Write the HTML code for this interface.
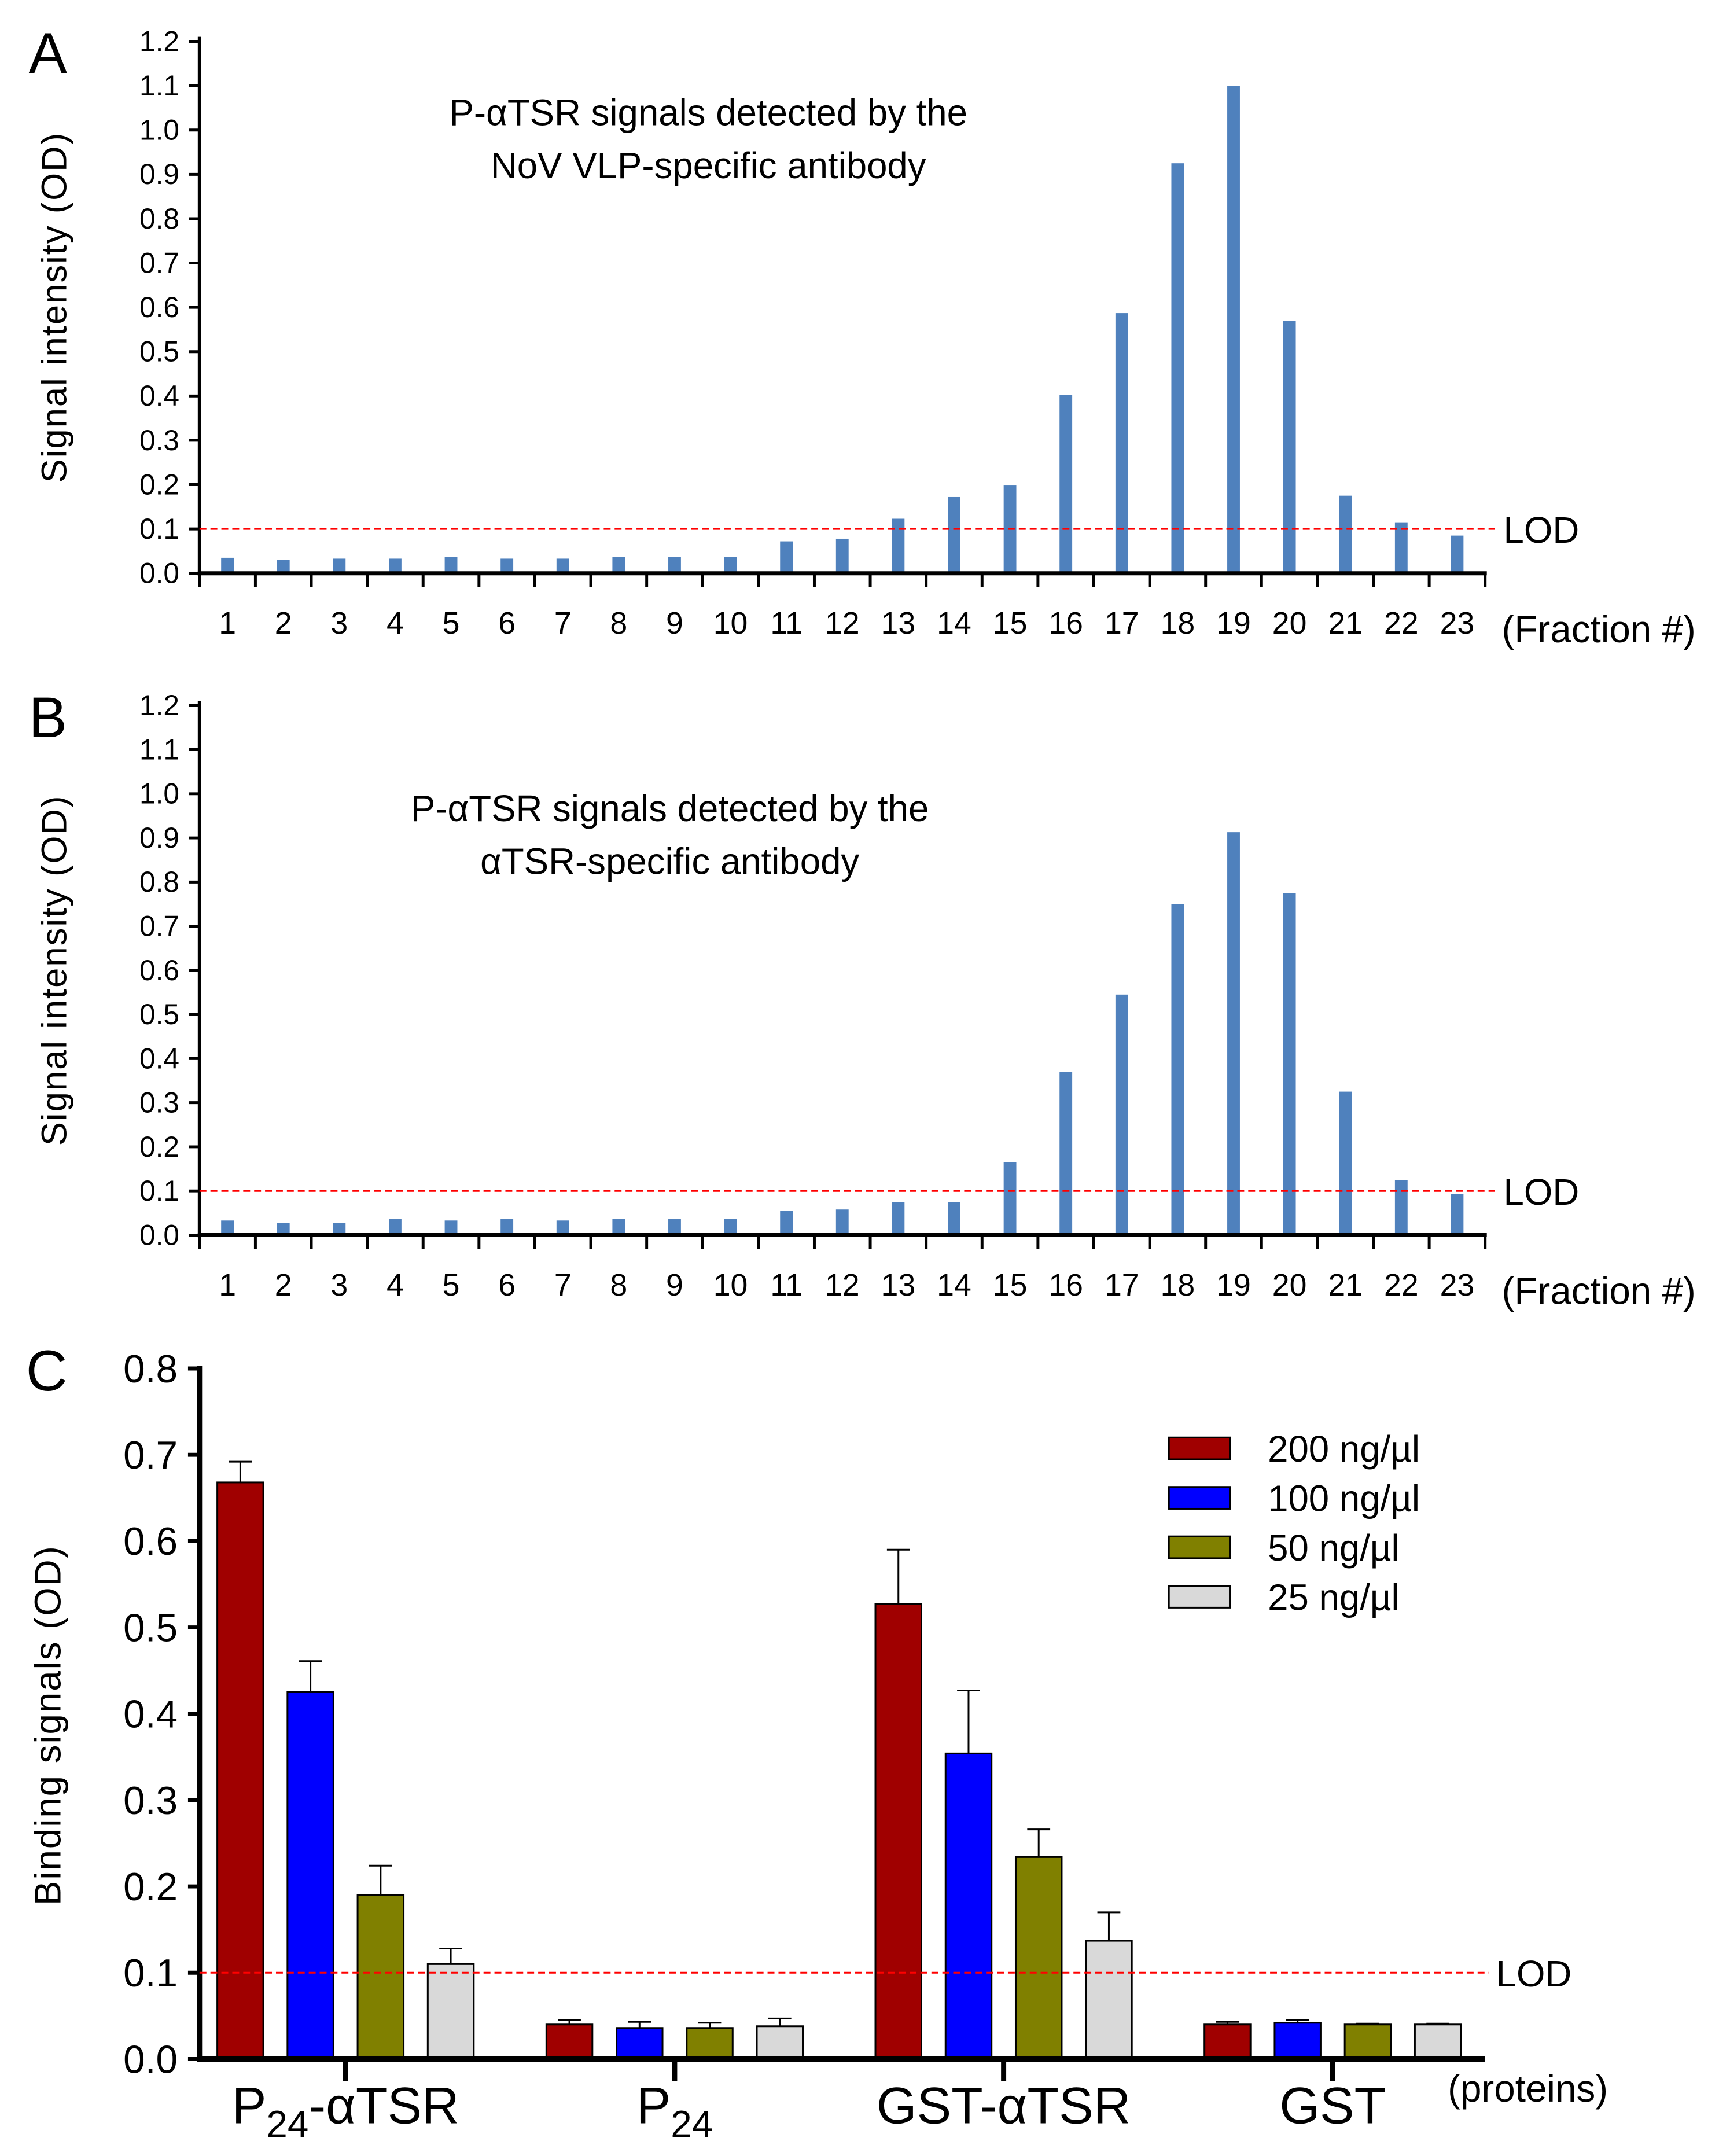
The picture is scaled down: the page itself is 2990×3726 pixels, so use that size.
<!DOCTYPE html>
<html><head><meta charset="utf-8"><style>
html,body{margin:0;padding:0;background:#fff;}
svg{display:block;}
text{font-family:"Liberation Sans",sans-serif;fill:#000;}
</style></head><body>
<svg width="2990" height="3726" viewBox="0 0 2990 3726" xmlns="http://www.w3.org/2000/svg"><g id="fig" transform="scale(0.9937)"></g></svg>
<script>
const fractions = ["1","2","3","4","5","6","7","8","9","10","11","12","13","14","15","16","17","18","19","20","21","22","23"];
const valuesA = [0.035,0.03,0.033,0.033,0.037,0.033,0.033,0.037,0.037,0.037,0.072,0.078,0.123,0.172,0.198,0.402,0.587,0.925,1.1,0.57,0.175,0.115,0.085];
const valuesB = [0.033,0.028,0.028,0.037,0.033,0.037,0.033,0.037,0.037,0.037,0.055,0.058,0.075,0.075,0.165,0.37,0.545,0.75,0.913,0.775,0.325,0.125,0.093];
const ticksAB = ["0.0","0.1","0.2","0.3","0.4","0.5","0.6","0.7","0.8","0.9","1.0","1.1","1.2"];
const groupsC = ["P24-αTSR","P24","GST-αTSR","GST"];
const seriesNames = ["200 ng/µl","100 ng/µl","50 ng/µl","25 ng/µl"];
const s200 = [0.668,0.040,0.527,0.040];
const s100 = [0.425,0.036,0.354,0.042];
const s50 = [0.190,0.036,0.234,0.040];
const s25 = [0.110,0.038,0.137,0.040];
const e200 = [0.024,0.005,0.063,0.003];
const e100 = [0.036,0.007,0.073,0.003];
const e50 = [0.034,0.006,0.032,0.001];
const e25 = [0.018,0.009,0.033,0.001];
const ticksC = ["0.0","0.1","0.2","0.3","0.4","0.5","0.6","0.7","0.8"];
const lod = 0.1;

const NS="http://www.w3.org/2000/svg";
const svg=document.getElementById('fig');
function mk(tag,attrs,parent){const e=document.createElementNS(NS,tag);for(const k in attrs)e.setAttribute(k,attrs[k]);(parent||svg).appendChild(e);return e;}
function txt(str,attrs,parent){const t=mk('text',attrs,parent);t.textContent=str;return t;}

function panelAB(letter,vals,top,zero,title1,title2,titleX,titleY){
  const g=mk('g',{});
  
  
  const x0=347,x1=2583,vmax=1.2;
  const y=v=>zero-(v/vmax)*(zero-top);
  const bw=(x1-x0)/fractions.length;
  const xc=i=>x0+bw*(i+0.5);
  const pl=txt(letter,{x:50,y:top+55,'font-size':100},g);
  
  
  vals.forEach((v,i)=>{
    const r=mk('rect',{x:xc(i)-11,y:y(v),width:22,height:zero-y(v),fill:'#4f81bd'},g);
    
    
  });
  mk('line',{x1:x0,y1:top-8,x2:x0,y2:zero+4,stroke:'#000','stroke-width':6},g);
  ticksAB.forEach(t=>{
    const yy=y(parseFloat(t));
    mk('line',{x1:x0-18,y1:yy,x2:x0,y2:yy,stroke:'#000','stroke-width':5},g);
    const tl=txt(t,{x:x0-35,y:yy+17,'font-size':50,'text-anchor':'end'},g);
    
    
  });
  mk('line',{x1:x0-3,y1:zero,x2:x1+3,y2:zero,stroke:'#000','stroke-width':7},g);
  for(let i=0;i<=fractions.length;i++){const xx=x0+bw*i;mk('line',{x1:xx,y1:zero,x2:xx,y2:zero+24,stroke:'#000','stroke-width':5},g);}
  fractions.forEach((f,i)=>{
    const tl=txt(f,{x:xc(i),y:zero+105,'font-size':54,'text-anchor':'middle'},g);
    
    
  });
  const xt=txt('(Fraction #)',{x:2612,y:zero+120,'font-size':66},g);
  
  
  mk('line',{x1:x0,y1:y(lod),x2:2600,y2:y(lod),stroke:'#ff0000','stroke-width':3,'stroke-dasharray':'12,7'},g);
  const ll=txt('LOD',{x:2615,y:y(lod)+24,'font-size':64},g);
  
  
  const yt=txt('Signal intensity (OD)',{x:0,y:0,'font-size':62,'text-anchor':'middle','letter-spacing':2,transform:`translate(115,${(top+zero)/2}) rotate(-90)`},g);
  
  
  const t1=txt(title1,{x:titleX,y:titleY,'font-size':64,'text-anchor':'middle'},g);
  
  
  const t2=txt(title2,{x:titleX,y:titleY+92,'font-size':64,'text-anchor':'middle'},g);
  
  
}
panelAB('A',valuesA,72,997,'P-αTSR signals detected by the','NoV VLP-specific antibody',1232,218);
panelAB('B',valuesB,1227,2148,'P-αTSR signals detected by the','αTSR-specific antibody',1165,1428);

(function(){
  const g=mk('g',{});
  
  
  const x0=347,x1=2583,top=2380,zero=3581,vmax=0.8;
  const y=v=>zero-(v/vmax)*(zero-top);
  const pl=txt('C',{x:45,y:2418,'font-size':100},g);
  
  
  const gc=i=>601+i*572.3;
  const series=[s200,s100,s50,s25], errs=[e200,e100,e50,e25];
  const colors=['#a00000','#0000ff','#808000','#d9d9d9'];
  const names=['200','100','50','25'];
  series.forEach((s,k)=>{
    s.forEach((v,i)=>{
      const cx=gc(i)+(k-1.5)*122;
      const et=y(v+errs[k][i]);
      mk('line',{x1:cx,y1:et,x2:cx,y2:y(v),stroke:'#000','stroke-width':3},g);
      mk('line',{x1:cx-20,y1:et,x2:cx+20,y2:et,stroke:'#000','stroke-width':3},g);
      const r=mk('rect',{x:cx-40,y:y(v),width:80,height:zero-y(v),fill:colors[k],stroke:'#000','stroke-width':3},g);
      
      
    });
  });
  mk('line',{x1:x0,y1:top-5,x2:x0,y2:zero+5,stroke:'#000','stroke-width':9},g);
  ticksC.forEach(t=>{
    const yy=y(parseFloat(t));
    mk('line',{x1:x0-20,y1:yy,x2:x0,y2:yy,stroke:'#000','stroke-width':7},g);
    const tl=txt(t,{x:x0-38,y:yy+24,'font-size':68,'text-anchor':'end'},g);
    
    
  });
  mk('line',{x1:x0-4,y1:zero,x2:x1,y2:zero,stroke:'#000','stroke-width':10},g);
  const labs=[['P','24','-αTSR'],['P','24',''],['GST-αTSR','',''],['GST','','']];
  groupsC.forEach((n,i)=>{
    mk('line',{x1:gc(i),y1:zero,x2:gc(i),y2:zero+38,stroke:'#000','stroke-width':9},g);
    const t=mk('text',{x:gc(i),y:zero+112,'font-size':90,'text-anchor':'middle'},g);
    
    
    const l=labs[i];
    const a=document.createElementNS(NS,'tspan');a.textContent=l[0];t.appendChild(a);
    if(l[1]){const b=document.createElementNS(NS,'tspan');b.setAttribute('dy','24');b.setAttribute('font-size','66');b.textContent=l[1];t.appendChild(b);
      if(l[2]){const c=document.createElementNS(NS,'tspan');c.setAttribute('dy','-24');c.textContent=l[2];t.appendChild(c);}}
  });
  const xt=txt('(proteins)',{x:2518,y:3655,'font-size':66},g);
  
  
  mk('line',{x1:x0,y1:y(lod),x2:2590,y2:y(lod),stroke:'#ff0000','stroke-width':3,'stroke-dasharray':'12,7'},g);
  const ll=txt('LOD',{x:2602,y:y(lod)+24,'font-size':64},g);
  
  
  const yt=txt('Binding signals (OD)',{x:0,y:0,'font-size':64,'text-anchor':'middle','letter-spacing':2,transform:`translate(105,${(top+zero)/2+20}) rotate(-90)`},g);
  
  
  seriesNames.forEach((n,k)=>{
    const yy=2519+k*86;
    const sw=mk('rect',{x:2033,y:yy-19,width:106,height:38,fill:colors[k],stroke:'#000','stroke-width':3},g);
    
    
    const lt=txt(n,{x:2205,y:yy+23,'font-size':64},g);
    
    
  });
})();
</script>
</body></html>
